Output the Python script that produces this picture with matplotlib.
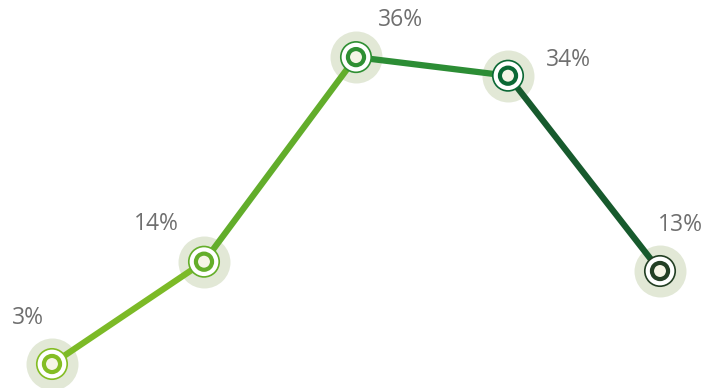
import matplotlib

matplotlib.use("Agg")
import matplotlib.pyplot as plt

categories = ["A", "B", "C", "D", "E"]
values = [3, 14, 36, 34, 13]
labels = ["3%", "14%", "36%", "34%", "13%"]
point_colors = ["#84bd24", "#64ae2a", "#2f8f33", "#0b6835", "#233f24"]
segment_colors = ["#7cba27", "#62ad2b", "#2c8d35", "#175a2d"]
# label offsets in pixels from each point
label_offsets = [(-24, 46), (-48, 38), (45, 37), (60, 16), (20, 46)]

fig = plt.figure(figsize=(7.05, 3.88), dpi=100)
ax = fig.add_axes([0, 0, 1, 1])
ax.set_xlim(-0.342, 4.296)
ax.set_ylim(0.42, 42.14)
ax.axis("off")

x = list(range(len(categories)))

# halos
ax.scatter(x, values, s=1400, color="#dfe6d2", alpha=0.9, zorder=1, linewidths=0)

# connecting line
for i in range(len(x) - 1):
    ax.plot(x[i:i + 2], values[i:i + 2], color=segment_colors[i], lw=4.5,
            solid_capstyle="butt", zorder=2)

# white disc with thin outer ring
ax.scatter(x, values, s=480, facecolor="white", edgecolor=point_colors,
           linewidths=1.2, zorder=3)
# thick inner ring
ax.scatter(x, values, s=135, facecolor="#f6f5e6", edgecolor=point_colors,
           linewidths=3.0, zorder=4)

for xi, v, lab, off in zip(x, values, labels, label_offsets):
    ax.annotate(lab, (xi, v), xytext=off, textcoords="offset pixels",
                ha="center", va="center", fontsize=16.5, color="#6f6f6f",
                family="Open Sans", zorder=5)

fig.savefig("out.png", dpi=100)
